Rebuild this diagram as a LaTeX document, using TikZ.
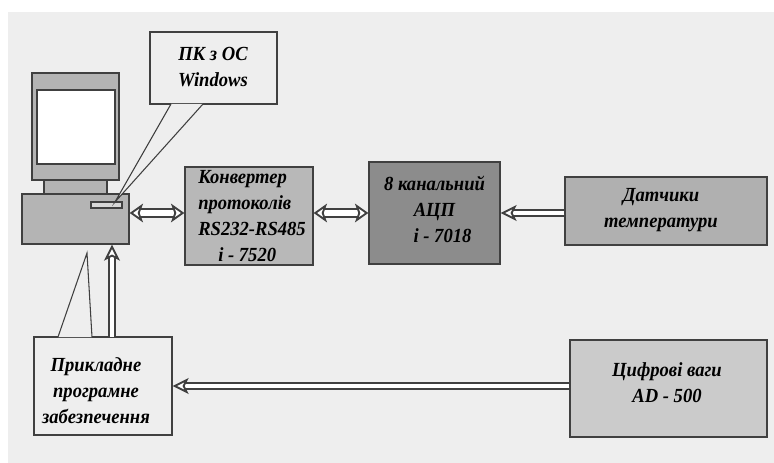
\documentclass[tikz,border=0pt]{standalone}
\usepackage{fontspec}
\setmainfont[FakeStretch=0.93]{Liberation Serif}
\usetikzlibrary{arrows.meta,positioning,calc}
\definecolor{panelgray}{HTML}{EEEEEE}
\definecolor{dark}{HTML}{404040}
\definecolor{pcgray}{HTML}{B4B4B4}
\definecolor{convgray}{HTML}{B8B8B8}
\definecolor{adcgray}{HTML}{8C8C8C}
\definecolor{sensgray}{HTML}{B0B0B0}
\definecolor{scalegray}{HTML}{CBCBCB}
\tikzset{
  box/.style={draw=dark, line width=1pt, inner sep=0pt},
  pcbox/.style={box, fill=pcgray},
  notebox/.style={box, fill=panelgray},
  caption/.style={align=center, inner sep=0pt, font=\bfseries\itshape\fontsize{15}{19.5}\selectfont},
  hollow/.style={draw=dark, line width=1.4pt, double=white, double distance=2.6pt, -{Stealth[inset=3pt, length=12pt, width=12pt, fill=white]}},
  hollowboth/.style={draw=dark, line width=1.4pt, double=white, double distance=4pt, {Stealth[inset=2.5pt, length=10pt, width=14pt, fill=white]}-{Stealth[inset=2.5pt, length=10pt, width=14pt, fill=white]}},
  tail/.style={draw=dark, line width=0.8pt}
}
\begin{document}
\begin{tikzpicture}[x=0.75pt, y=-0.75pt]
  \useasboundingbox (0,0) rectangle (774,463);
  \fill[panelgray] (8,12) rectangle (774,463);

  \node[pcbox, minimum width=65.25pt, minimum height=80.25pt] (monitor) at (75.5,126.5) {};
  \node[box, fill=white, minimum width=58.5pt, minimum height=55.5pt] (screen) at (76,127) {};
  \node[pcbox, minimum width=47.25pt, minimum height=10.5pt] (neck) at (75.5,187) {};
  \node[pcbox, minimum width=80.25pt, minimum height=37.5pt] (base) at (75.5,219) {};
  \node[box, fill=panelgray!60!pcgray, minimum width=23.25pt, minimum height=4.5pt] (slot) at (106.5,205) {};

  \node[notebox, minimum width=95.25pt, minimum height=54pt] (note) at (213.5,68) {};
  \node[box, fill=convgray, minimum width=96pt, minimum height=73.5pt] (conv) at (249,216) {};
  \node[box, fill=adcgray, minimum width=98.25pt, minimum height=76.5pt] (adc) at (434.5,213) {};
  \node[box, fill=sensgray, minimum width=151.5pt, minimum height=51pt] (sensors) at (666,211) {};
  \node[box, fill=scalegray, minimum width=147.75pt, minimum height=72.75pt] (scales) at (668.5,388.5) {};
  \node[notebox, minimum width=103.5pt, minimum height=73.5pt] (app) at (103,386) {};

  \node[caption] (notetext) at (213,67) {ПК з ОС\\Windows};
  \node[caption, align=left] (convtext) at (252,216) {Конвертер\\протоколів\\RS232-RS485\\\hspace*{15pt}i - 7520};
  \node[caption] (adctext) at (434.5,209) {8 канальний\\АЦП\\\hspace*{12pt}i - 7018};
  \node[caption] (sensorstext) at (661,210) {Датчики\\температури};
  \node[caption] (scalestext) at (667,383) {Цифрові ваги\\AD - 500};
  \node[caption] (apptext) at (96,391) {Прикладне\\програмне\\забезпечення};

  \coordinate (notetip) at (115,202);
  \coordinate (noteleft) at (171,104);
  \coordinate (noteright) at (203,104);
  \fill[panelgray] (noteleft) -- (notetip) -- (noteright) -- cycle;
  \draw[tail] (noteleft) -- (notetip) -- (noteright);

  \coordinate (apptip) at (87,253);
  \coordinate (appleft) at (58,337);
  \coordinate (appright) at (92,337);
  \fill[panelgray] (appleft) -- (apptip) -- (appright) -- cycle;
  \draw[tail] (appleft) -- (apptip) -- (appright);
  \coordinate (appout) at (112,337);

  \draw[hollowboth] (base.east |- adc.west) -- (conv.west |- adc.west);
  \draw[hollowboth] (conv.east |- adc.west) -- (adc.west);
  \draw[hollow] (sensors.west |- adc.west) -- (adc.east);
  \draw[hollow] (scales.west |- app.east) -- (app.east);
  \draw[hollow] (appout) -- (appout |- base.south);
\end{tikzpicture}
\end{document}
